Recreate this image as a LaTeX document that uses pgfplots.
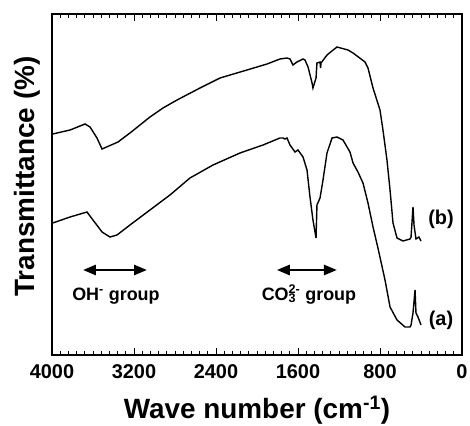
\documentclass[border=0pt]{standalone}
\usepackage{fontspec}
\setmainfont{Liberation Sans}
\usepackage{pgfplots}
\pgfplotsset{compat=1.18}
\usetikzlibrary{arrows.meta}

% FTIR spectra, curves (y in arbitrary units)
\pgfplotstableread{
wn    t
3993  221
3824  225
3678  231
3629  228
3561  217
3512  206
3356  213
3239  222
3044  238
2917  247
2780  255
2556  267
2361  277
2098  285
1902  291
1776  296
1707  297
1678  296
1649  290
1610  293
1551  296
1532  295
1502  288
1463  272
1454  267
1424  277
1415  292
1385  293
1380  287
1375  292
1317  300
1220  308
1112  305
1063  302
946   293
917   287
868   267
800   245
771   225
732   195
702   165
673   132
634   117
576   114
507   116
497   118
478   148
468   130
449   116
420   118
400   114
}\specb

\pgfplotstableread{
wn    t
3993  132
3824  138
3659  143
3600  135
3512  123
3434  118
3366  120
3239  130
3044  145
2849  160
2654  177
2429  190
2166  202
1941  210
1776  217
1746  217
1727  216
1707  217
1678  210
1629  203
1600  205
1551  198
1512  185
1483  158
1454  135
1424  117
1415  150
1385  157
1356  175
1317  202
1268  217
1220  218
1161  215
1093  203
1063  192
1015  183
966   172
917   152
868   128
820   107
751   75
702   48
634   35
556   28
507   28
497   30
478   42
458   65
449   42
429   38
400   30
}\speca

\begin{document}
\begin{tikzpicture}
\begin{axis}[
  name=ax,
  scale only axis, width=410bp, height=341bp,
  xmin=0, xmax=4000, ymin=0, ymax=341,
  x dir=reverse,
  xtick={0,800,...,4000}, minor x tick num=9,
  ytick=\empty,
  tick align=inside,
  major tick length=7bp, minor tick length=4bp,
  axis line style={line width=1.2bp},
  every tick/.style={black,line width=0.9bp},
  /pgf/number format/assume math mode=true,
  /pgf/number format/set thousands separator={},
  xticklabel style={font=\fontsize{20}{22}\selectfont\bfseries,anchor=base,yshift=-23bp},
  xlabel={Wave number (cm\textsuperscript{-1})},
  xlabel style={font=\fontsize{28}{30}\selectfont\bfseries,
    at={(axis description cs:0.5,-0.185)},anchor=base},
  ylabel={Transmittance (\%)},
  ylabel style={font=\fontsize{28}{30}\selectfont\bfseries,
    at={(axis description cs:-0.0415,0.523)},anchor=base,rotate=0},
  clip=false,
]
\addplot[black,line width=1.4bp] table[x=wn,y=t] {\specb};
\addplot[black,line width=1.4bp] table[x=wn,y=t] {\speca};

\draw[{Triangle[length=13bp,width=10bp]}-{Triangle[length=13bp,width=10bp]},line width=2.6bp]
  (axis cs:3698,85) -- (axis cs:3073,85);
\draw[{Triangle[length=13bp,width=10bp]}-{Triangle[length=13bp,width=10bp]},line width=2.6bp]
  (axis cs:1807,85) -- (axis cs:1220,85);
\node[anchor=base,font=\fontsize{18}{20}\selectfont\bfseries] at (axis cs:3376,55)
  {OH\textsuperscript{-} group};
\node[anchor=base,font=\fontsize{18}{20}\selectfont\bfseries] at (axis cs:1493,55)
  {CO\rlap{\textsubscript{3}}\textsuperscript{2-} group};
\node[anchor=base,font=\fontsize{20}{22}\selectfont\bfseries] at (axis cs:205,130) {(b)};
\node[anchor=base,font=\fontsize{20}{22}\selectfont\bfseries] at (axis cs:205,30) {(a)};
\end{axis}
\pgfresetboundingbox
\path (ax.south west) ++(-52bp,-71bp) rectangle ++(470bp,426bp);
\end{tikzpicture}
\end{document}
